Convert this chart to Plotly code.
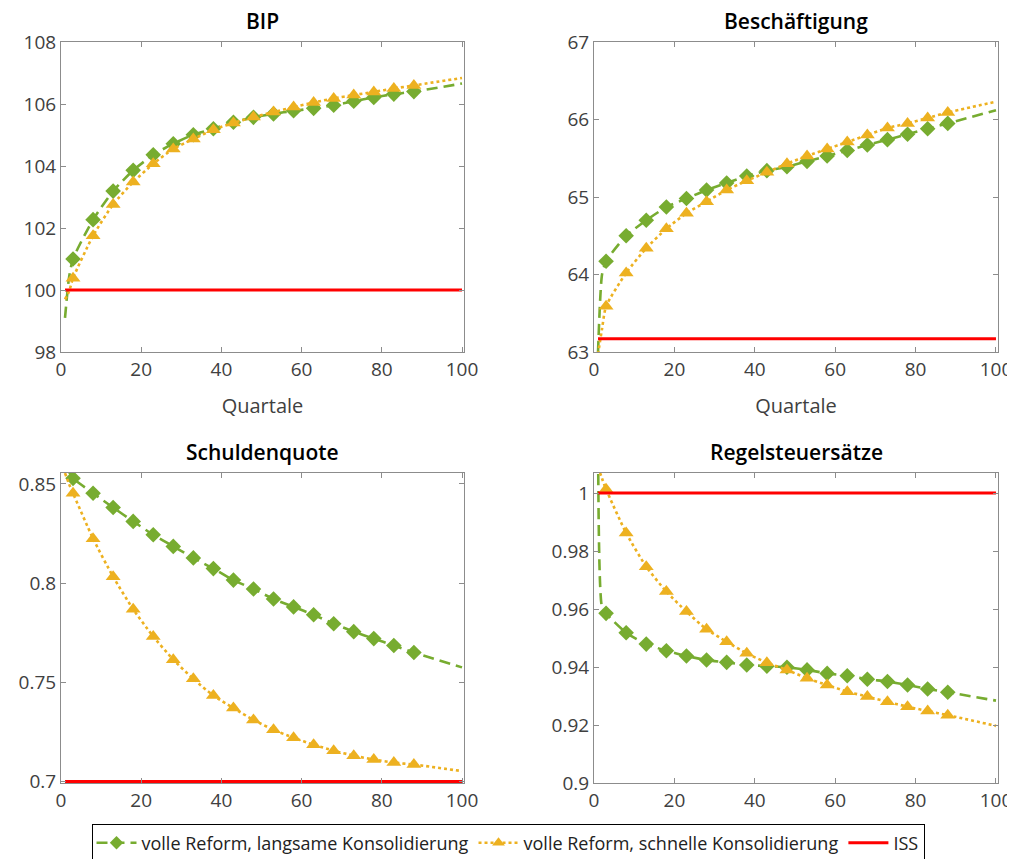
import plotly.graph_objects as go

quarters = [1, 2, 3, 8, 13, 18, 23, 28, 33, 38, 43, 48, 53, 58, 63, 68, 73, 78, 83, 88, 100]
marker_quarters = [3, 8, 13, 18, 23, 28, 33, 38, 43, 48, 53, 58, 63, 68, 73, 78, 83, 88]

bip_slow = [99.1, 100.4, 101.0, 102.27, 103.19, 103.86, 104.36, 104.72, 105.01, 105.2, 105.41,
            105.57, 105.68, 105.78, 105.86, 105.96, 106.09, 106.21, 106.32, 106.40, 106.66]
bip_fast = [99.7, 99.95, 100.38, 101.75, 102.76, 103.48, 104.07, 104.55, 104.87, 105.17, 105.39,
            105.58, 105.74, 105.9, 106.05, 106.18, 106.29, 106.39, 106.5, 106.6, 106.84]
bip_iss = 100.0

emp_slow = [63.0, 64.0, 64.17, 64.5, 64.7, 64.87, 64.98, 65.09, 65.18, 65.27, 65.34,
            65.39, 65.46, 65.53, 65.6, 65.67, 65.74, 65.81, 65.88, 65.95, 66.12]
emp_fast = [62.97, 63.3, 63.59, 64.02, 64.34, 64.59, 64.79, 64.94, 65.09, 65.21, 65.32,
            65.43, 65.53, 65.62, 65.71, 65.8, 65.89, 65.95, 66.02, 66.09, 66.23]
emp_iss = 63.17

debt_slow = [0.858, 0.856, 0.8528, 0.8453, 0.8381, 0.8311, 0.8244, 0.8185, 0.8127, 0.8073, 0.8015,
             0.797, 0.792, 0.788, 0.784, 0.7795, 0.7755, 0.772, 0.7685, 0.765, 0.7575]
debt_fast = [0.8555, 0.850, 0.8453, 0.8224, 0.8032, 0.7868, 0.7731, 0.7614, 0.7517, 0.7433, 0.737,
             0.731, 0.726, 0.722, 0.7185, 0.7155, 0.713, 0.711, 0.7095, 0.7085, 0.7052]
debt_iss = 0.7

tax_slow = [1.03, 0.9605, 0.9585, 0.9518, 0.9479, 0.9456, 0.9438, 0.9424, 0.9416, 0.9407, 0.9403,
            0.9399, 0.939, 0.9378, 0.937, 0.9358, 0.935, 0.9338, 0.9324, 0.9313, 0.9284]
tax_fast = [1.009, 1.005, 1.0013, 0.9862, 0.9746, 0.966, 0.9591, 0.953, 0.9487, 0.9447, 0.9415,
            0.939, 0.9361, 0.9338, 0.9315, 0.9298, 0.928, 0.9263, 0.9248, 0.9234, 0.9197]
tax_iss = 1.0

titles = ["BIP", "Beschäftigung", "Schuldenquote", "Regelsteuersätze"]
names = ["volle Reform, langsame Konsolidierung", "volle Reform, schnelle Konsolidierung", "ISS"]

panels = [
    (bip_slow, bip_fast, bip_iss, [98, 108], [98, 100, 102, 104, 106, 108], ["98", "100", "102", "104", "106", "108"]),
    (emp_slow, emp_fast, emp_iss, [63, 67], [63, 64, 65, 66, 67], ["63", "64", "65", "66", "67"]),
    (debt_slow, debt_fast, debt_iss, [0.6992, 0.8555], [0.7, 0.75, 0.8, 0.85], ["0.7", "0.75", "0.8", "0.85"]),
    (tax_slow, tax_fast, tax_iss, [0.9, 1.0069], [0.9, 0.92, 0.94, 0.96, 0.98, 1.0], ["0.9", "0.92", "0.94", "0.96", "0.98", "1"]),
]

W, H = 1015, 859
OFF = 8  # page body margin in the browser
x_dom_px = [(61, 464), (594, 998), (61, 464), (594, 998)]
y_dom_px = [(42, 352), (42, 352), (473, 783), (473, 783)]

GREEN = "#77AC30"
ORANGE = "#EDB120"
RED = "#FF0000"
FONT = "Open Sans"
TICKCOL = "#404040"


def fx(px):
    return (px - OFF) / W


def fy(px):
    return 1 - (px - OFF) / H


fig = go.Figure()
msize_slow = [12 if q in marker_quarters else 0 for q in quarters]
msize_fast = [13 if q in marker_quarters else 0 for q in quarters]

layout = dict(width=W, height=H, margin=dict(l=0, r=0, t=0, b=0),
              plot_bgcolor="white", paper_bgcolor="white", annotations=[])

for i, (slow, fast, iss, yr, yt, ytl) in enumerate(panels):
    n = "" if i == 0 else str(i + 1)
    xa, ya = "x" + n, "y" + n
    fig.add_trace(go.Scatter(
        x=quarters, y=slow, xaxis=xa, yaxis=ya, name=names[0], showlegend=(i == 0),
        legendgroup="slow", mode="lines+markers",
        line=dict(color=GREEN, width=2.6, dash="11px,6px", shape="spline", smoothing=0.6),
        marker=dict(symbol="diamond", size=msize_slow, color=GREEN, opacity=1, line=dict(width=0))))
    fig.add_trace(go.Scatter(
        x=quarters, y=fast, xaxis=xa, yaxis=ya, name=names[1], showlegend=(i == 0),
        legendgroup="fast", mode="lines+markers",
        line=dict(color=ORANGE, width=2.6, dash="dot", shape="spline", smoothing=0.6),
        marker=dict(symbol="triangle-up", size=msize_fast, color=ORANGE, opacity=1, line=dict(width=0))))
    fig.add_trace(go.Scatter(
        x=[quarters[0], quarters[-1]], y=[iss, iss], xaxis=xa, yaxis=ya, name=names[2],
        showlegend=(i == 0), legendgroup="iss", mode="lines",
        line=dict(color=RED, width=3)))

    x0, x1 = x_dom_px[i]
    y0, y1 = y_dom_px[i]
    axis_common = dict(showline=True, linecolor="#8c8c8c", linewidth=1, mirror="allticks",
                       ticks="inside", ticklen=5, tickcolor="#8c8c8c", showgrid=False,
                       zeroline=False, automargin=False,
                       tickfont=dict(family=FONT, size=19, color=TICKCOL))
    layout["xaxis" + n] = dict(axis_common, domain=[fx(x0), fx(x1)], range=[0, 100.5],
                               tickvals=[0, 20, 40, 60, 80, 100], anchor=ya)
    if i < 2:
        layout["xaxis" + n]["title"] = dict(text="Quartale", font=dict(family=FONT, size=20, color=TICKCOL), standoff=18)
    layout["yaxis" + n] = dict(axis_common, domain=[fy(y1), fy(y0)], range=yr,
                               tickvals=yt, ticktext=ytl, anchor=xa)
    layout["annotations"].append(dict(
        text=titles[i], x=fx((x0 + x1) / 2), y=fy(y0 - 21), xref="paper", yref="paper",
        showarrow=False, xanchor="center", yanchor="middle",
        font=dict(family=FONT, size=21, color="#000000", weight=600)))

layout["legend"] = dict(orientation="h", x=fx(508), y=fy(843), xanchor="center", yanchor="middle",
                        bordercolor="#000000", borderwidth=1, bgcolor="white",
                        font=dict(family=FONT, size=18, color="#222222"),
                        itemwidth=40, tracegroupgap=0)

fig.update_layout(**layout)
fig.write_html("out.html")
